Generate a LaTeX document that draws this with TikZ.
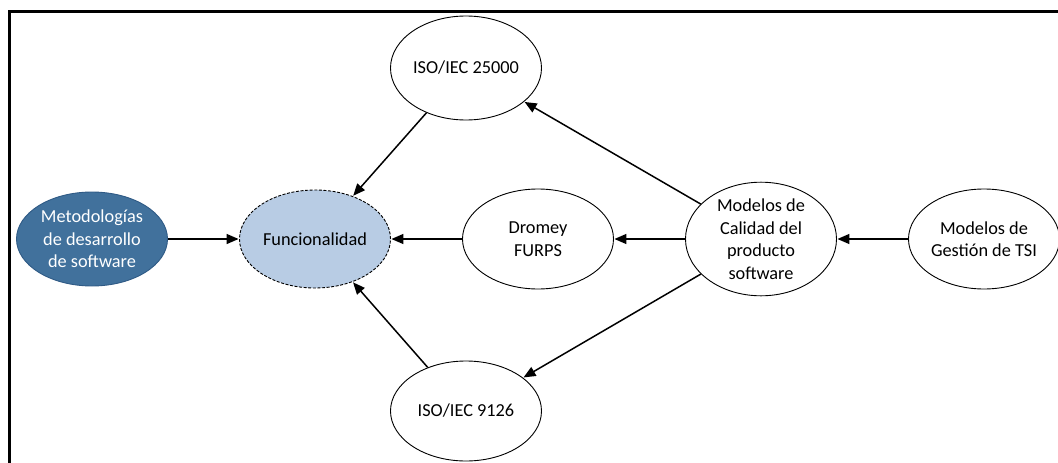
\documentclass[tikz,border=0pt]{standalone}
\usepackage{fontspec}
\setmainfont{Carlito}
\usetikzlibrary{arrows.meta,shapes.geometric}
\definecolor{deepblue}{HTML}{41719C}
\definecolor{deepblueedge}{HTML}{2F5A85}
\definecolor{paleblue}{HTML}{B8CCE4}
\tikzset{
  bubble/.style={ellipse, draw=black, line width=0.9pt, fill=white,
    minimum width=151pt, minimum height=100pt, inner sep=0pt,
    align=center, font=\fontsize{18.3}{22.5}\selectfont},
  flow/.style={draw=black, line width=1.5pt,
    -{Triangle[length=12pt,width=10pt]}, shorten >=0.5pt}
}
\begin{document}
\begin{tikzpicture}[x=1pt,y=-1pt]
  \useasboundingbox (0,0) rectangle (1058,463);
  % frame edges
  \draw[line width=3pt] (9.5,463) -- (9.5,11) -- (1058,11);

  \node[bubble, fill=deepblue, draw=deepblueedge, text=white,
        minimum height=94pt] (met) at (92,239)
        {Metodologías\\de desarrollo\\de software};
  \node[bubble, fill=paleblue, dash pattern=on 3pt off 1.6pt,
        minimum height=98pt] (fun) at (315,239) {Funcionalidad};
  \node[bubble, minimum height=104pt] (iso25) at (466,68) {ISO/IEC 25000};
  \node[bubble] (dro) at (538,239) {Dromey\\FURPS};
  \node[bubble] (cal) at (761,239) {Modelos de\\Calidad del\\producto\\software};
  \node[bubble] (ges) at (984,239) {Modelos de\\Gestión de TSI};
  \node[bubble] (iso91) at (466,411) {ISO/IEC 9126};

  \draw[flow] (met) -- (fun);
  \draw[flow] (iso25) -- (fun);
  \draw[flow] (dro) -- (fun);
  \draw[flow] (iso91) -- (fun);
  \draw[flow] (cal) -- (dro);
  \draw[flow] (cal) -- (iso25);
  \draw[flow] (cal) -- (iso91);
  \draw[flow] (ges) -- (cal);
\end{tikzpicture}
\end{document}
